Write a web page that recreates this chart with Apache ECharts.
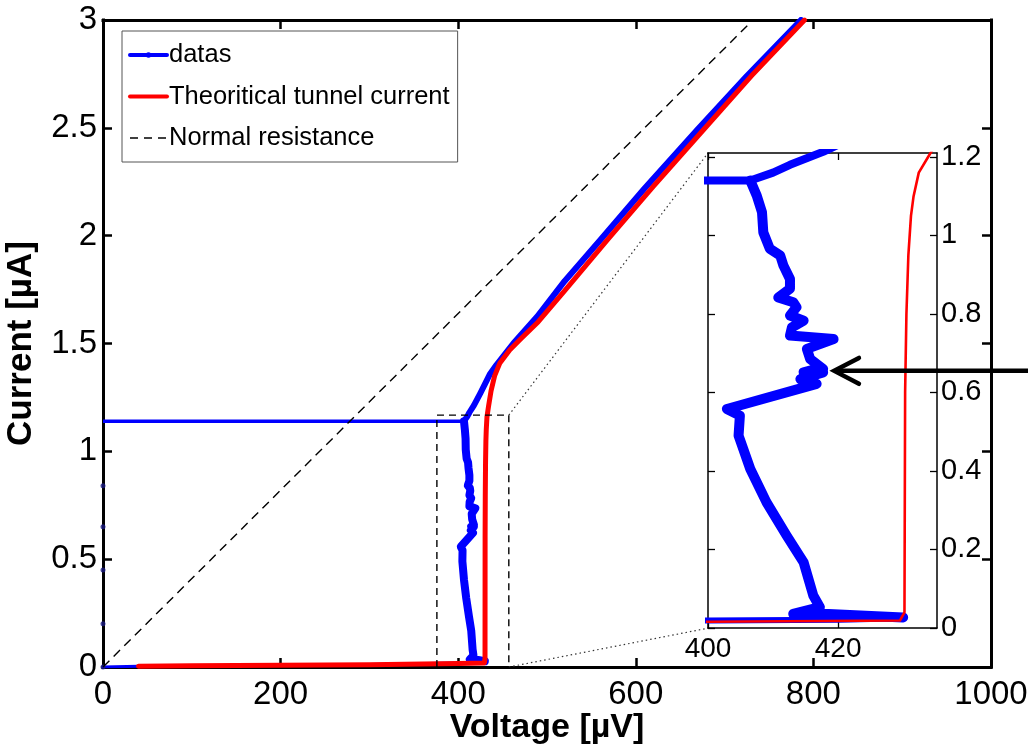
<!DOCTYPE html>
<html>
<head>
<meta charset="utf-8">
<script src="https://cdn.jsdelivr.net/npm/echarts@6/dist/echarts.min.js"></script>
<style>
html,body{margin:0;padding:0;background:#fff;}
#chart{width:1028px;height:745px;}
</style>
</head>
<body>
<div id="chart"></div>
<script>
// ---------------- DATA ----------------
// Measured data ("datas"): switching jump at the switching current
const blueJumpV = [0, 406.5];
const blueJumpI = [1.14, 1.14];
// quasiparticle branch above the gap
const blueUpV = [406.5, 410, 412.6, 417.7, 425, 436, 443, 462, 489, 520, 560, 610, 669, 725, 786];
const blueUpI = [1.14, 1.16, 1.18, 1.213, 1.27, 1.36, 1.40, 1.50, 1.625, 1.79, 1.98, 2.22, 2.49, 2.74, 3.0];
// branch going down along the gap (shown in the inset)
const blueDownV = [406.5, 407.5, 408.3, 408.5, 409.5, 411.1, 411.6, 412.6, 412.6, 410.8, 413.1, 413.6, 412.6, 414.7, 412.9, 412.6, 419.3, 415.2, 415.7, 417.7, 414.7, 416.7, 417.7, 414.2, 416.7, 402.9, 404.9, 404.7, 406.5, 409.0, 412.1, 414.7, 416.2, 417.2, 413.1, 417.7, 430.0];
const blueDownI = [1.14, 1.101, 1.059, 1.008, 0.966, 0.949, 0.923, 0.889, 0.864, 0.842, 0.830, 0.817, 0.796, 0.783, 0.766, 0.745, 0.736, 0.711, 0.685, 0.660, 0.651, 0.660, 0.651, 0.634, 0.622, 0.558, 0.541, 0.490, 0.405, 0.320, 0.235, 0.167, 0.082, 0.053, 0.036, 0.036, 0.027];
// sub-gap return along the bottom
const blueSubV = [430.0, 420, 400, 300, 200, 100, 40, 0];
const blueSubI = [0.025, 0.021, 0.019, 0.012, 0.008, 0.005, 0.003, 0.0];
// zero-voltage (supercurrent) branch points
const blueZeroV = [0, 0, 0, 0, 0];
const blueZeroI = [0.0, 0.2, 0.45, 0.65, 0.84];

// Theoretical tunnel current
const redV = [40, 100, 200, 300, 400, 429.5, 430.2, 430.3, 430.5, 430.8, 431.2, 431.6, 432.4, 434.2, 437, 441, 447, 458, 470, 490, 520, 568, 620, 676, 730, 790];
const redI = [0.004, 0.006, 0.008, 0.011, 0.016, 0.019, 0.04, 0.6, 0.8, 0.95, 1.05, 1.1, 1.16, 1.21, 1.28, 1.35, 1.41, 1.47, 1.52, 1.60, 1.745, 1.98, 2.23, 2.49, 2.74, 3.0];

// Normal resistance
const normV = [0, 732];
const normI = [0, 3.0];

// Zoom indicator (dashed box in main plot, dotted connectors to inset)
const boxV = [376, 376, 457, 457];
const boxI = [0, 1.168, 1.168, 0];
const connTopV = [457, 681.3];
const connTopI = [1.168, 2.383];
const connBotV = [457, 681.3];
const connBotI = [0, 0.18];

// Arrow in the inset (pointing at the data), in inset data units
const arrowShaftV = [449.5, 419.6];
const arrowShaftI = [0.655, 0.655];
const arrowHeadV = [423.2, 419.4, 423.2];
const arrowHeadI = [0.688, 0.655, 0.622];

// Tick values
const mainXTicks = [0, 200, 400, 600, 800, 1000];
const mainYTicks = [0, 0.5, 1, 1.5, 2, 2.5, 3];
const insetXTicks = [400, 420];
const insetYTicks = [0, 0.2, 0.4, 0.6, 0.8, 1, 1.2];

// ---------------- CHART ----------------
const zip = (a, b) => a.map((v, i) => [v, b[i]]);
const FONT = "'Liberation Sans', Arial, sans-serif";
const BLUE = '#0000ff', RED = '#ff0000';

const chart = echarts.init(document.getElementById('chart'), null, {renderer: 'canvas'});

function mainX(pos, show) {
  return {
    gridIndex: 0, type: 'value', position: pos, min: 0, max: 1000, interval: 200,
    axisLine: {show: true, onZero: false, lineStyle: {color: '#000', width: 3, cap: 'square'}},
    axisTick: {show: true, inside: true, length: 9, customValues: mainXTicks, lineStyle: {color: '#000', width: 2.5}},
    axisLabel: {show: show, customValues: mainXTicks, fontSize: 33, color: '#000', fontFamily: FONT, margin: 11,
      formatter: v => String(v)},
    splitLine: {show: false}
  };
}
function mainY(pos, show) {
  return {
    gridIndex: 0, type: 'value', position: pos, min: 0, max: 3, interval: 0.5,
    axisLine: {show: true, onZero: false, lineStyle: {color: '#000', width: 3, cap: 'square'}},
    axisTick: {show: true, inside: true, length: 9, customValues: mainYTicks, lineStyle: {color: '#000', width: 2.5}},
    axisLabel: {show: show, customValues: mainYTicks, fontSize: 33, color: '#000', fontFamily: FONT, margin: 6,
      formatter: v => String(v)},
    splitLine: {show: false}
  };
}
function insetX(pos, show) {
  return {
    gridIndex: 1, type: 'value', position: pos, min: 400, max: 435.2,
    axisLine: {show: true, onZero: false, lineStyle: {color: '#000', width: 1.5}},
    axisTick: {show: true, inside: true, length: 7, customValues: insetXTicks, lineStyle: {color: '#000', width: 1.3}},
    axisLabel: {show: show, customValues: insetXTicks, fontSize: 28, color: '#000', fontFamily: FONT, margin: 7},
    splitLine: {show: false}, z: 6
  };
}
function insetY(pos, show) {
  return {
    gridIndex: 1, type: 'value', position: pos, min: 0, max: 1.21,
    axisLine: {show: true, onZero: false, lineStyle: {color: '#000', width: 1.5}},
    axisTick: {show: true, inside: true, length: 7, customValues: insetYTicks, lineStyle: {color: '#000', width: 1.3}},
    axisLabel: {show: show, customValues: insetYTicks, fontSize: 29, color: '#000', fontFamily: FONT, margin: 4,
      formatter: v => String(Math.round(v * 10) / 10)},
    splitLine: {show: false}, z: 6
  };
}

const xMainBottom = mainX('bottom', true);
xMainBottom.name = 'Voltage [µV]';
xMainBottom.nameLocation = 'middle';
xMainBottom.nameGap = 44;
xMainBottom.nameMoveOverlap = false;
xMainBottom.nameTextStyle = {fontSize: 34, fontWeight: 'bold', color: '#000', fontFamily: FONT};
const yMainLeft = mainY('left', true);
yMainLeft.name = 'Current [µA]';
yMainLeft.nameLocation = 'middle';
yMainLeft.nameGap = 64;
yMainLeft.nameMoveOverlap = false;
yMainLeft.nameTextStyle = {fontSize: 35, fontWeight: 'bold', color: '#000', fontFamily: FONT};

const lineCommon = {type: 'line', symbol: 'none', silent: true, animation: false};

const option = {
  animation: false,
  backgroundColor: '#fff',
  grid: [
    {left: 103, top: 20, width: 888, height: 647, containLabel: false, outerBoundsMode: 'none'},
    {left: 708, top: 153, width: 229, height: 475, show: true, backgroundColor: '#fff', borderWidth: 0, z: 5,
      containLabel: false, outerBoundsMode: 'none'}
  ],
  legend: {
    data: [
      {name: 'datas', lineStyle: {width: 4}},
      {name: 'Theoritical tunnel current', itemStyle: {opacity: 0}, lineStyle: {width: 4}},
      {name: 'Normal resistance', itemStyle: {opacity: 0}, lineStyle: {width: 1.4, type: [8, 6]}}
    ],
    orient: 'vertical', left: 122, top: 31,
    padding: [9, 8, 9, 6], itemGap: 11.5, itemWidth: 37, itemHeight: 7,
    backgroundColor: '#fff', borderColor: '#555', borderWidth: 1, borderRadius: 0,
    textStyle: {fontSize: 25.5, color: '#000', fontFamily: FONT, lineHeight: 30, padding: [0, 0, 0, -3]},
    selectedMode: false, z: 20
  },
  xAxis: [xMainBottom, mainX('top', false), insetX('bottom', true), insetX('top', false)],
  yAxis: [yMainLeft, mainY('right', false), insetY('right', true), insetY('left', false)],
  series: [
    // ---- main plot ----
    Object.assign({}, lineCommon, {name: 'datas', symbol: 'circle', symbolSize: 5, showSymbol: false,
      itemStyle: {color: BLUE}, xAxisIndex: 0, yAxisIndex: 0, z: 2,
      lineStyle: {color: BLUE, width: 6, cap: 'round', join: 'round'}, data: zip(blueUpV, blueUpI)}),
    Object.assign({}, lineCommon, {name: 'datas', xAxisIndex: 0, yAxisIndex: 0, z: 2,
      lineStyle: {color: BLUE, width: 3.5}, data: zip(blueJumpV, blueJumpI)}),
    Object.assign({}, lineCommon, {name: 'datas', xAxisIndex: 0, yAxisIndex: 0, z: 2,
      lineStyle: {color: BLUE, width: 8, cap: 'round', join: 'round'}, data: zip(blueDownV, blueDownI)}),
    Object.assign({}, lineCommon, {name: 'datas', xAxisIndex: 0, yAxisIndex: 0, z: 2,
      lineStyle: {color: BLUE, width: 3, cap: 'round', join: 'round'}, data: zip(blueSubV, blueSubI)}),
    {type: 'scatter', name: 'datas', xAxisIndex: 0, yAxisIndex: 0, z: 2, silent: true, symbolSize: 5,
      itemStyle: {color: '#1a1a80'}, data: zip(blueZeroV, blueZeroI)},
    Object.assign({}, lineCommon, {name: 'Theoritical tunnel current', xAxisIndex: 0, yAxisIndex: 0, z: 3,
      itemStyle: {color: RED},
      lineStyle: {color: RED, width: 5, cap: 'round', join: 'round'}, data: zip(redV, redI)}),
    Object.assign({}, lineCommon, {name: 'Normal resistance', xAxisIndex: 0, yAxisIndex: 0, z: 4,
      itemStyle: {color: '#000'},
      lineStyle: {color: '#000', width: 1.4, type: [9, 6]}, data: zip(normV, normI)}),
    // zoom indicator
    Object.assign({}, lineCommon, {xAxisIndex: 0, yAxisIndex: 0, z: 4,
      lineStyle: {color: '#000', width: 1.4, type: [7, 5]}, data: zip(boxV, boxI)}),
    Object.assign({}, lineCommon, {xAxisIndex: 0, yAxisIndex: 0, z: 4,
      lineStyle: {color: '#333', width: 1.2, type: [1.5, 3]}, data: zip(connTopV, connTopI)}),
    Object.assign({}, lineCommon, {xAxisIndex: 0, yAxisIndex: 0, z: 4,
      lineStyle: {color: '#333', width: 1.2, type: [1.5, 3]}, data: zip(connBotV, connBotI)}),
    // ---- inset ----
    Object.assign({}, lineCommon, {xAxisIndex: 2, yAxisIndex: 2, z: 7,
      lineStyle: {color: BLUE, width: 8, cap: 'round', join: 'round'}, data: zip(blueJumpV, blueJumpI)}),
    Object.assign({}, lineCommon, {xAxisIndex: 2, yAxisIndex: 2, z: 7,
      lineStyle: {color: BLUE, width: 8, cap: 'round', join: 'round'}, data: zip(blueUpV, blueUpI)}),
    Object.assign({}, lineCommon, {xAxisIndex: 2, yAxisIndex: 2, z: 7,
      lineStyle: {color: BLUE, width: 10, cap: 'round', join: 'round'}, data: zip(blueDownV, blueDownI)}),
    Object.assign({}, lineCommon, {xAxisIndex: 2, yAxisIndex: 2, z: 7,
      lineStyle: {color: BLUE, width: 6, cap: 'round', join: 'round'}, data: zip(blueSubV, blueSubI)}),
    Object.assign({}, lineCommon, {xAxisIndex: 2, yAxisIndex: 2, z: 8,
      lineStyle: {color: RED, width: 2.6, cap: 'round', join: 'round'}, data: zip(redV, redI)})
  ]
};
chart.setOption(option);

// Arrow drawn through the inset's scales (extends beyond the inset box)
const toPx = (v, i) => chart.convertToPixel({xAxisIndex: 2, yAxisIndex: 2}, [v, i]);
chart.setOption({
  graphic: [
    {type: 'polyline', z: 100, silent: true,
      shape: {points: zip(arrowShaftV, arrowShaftI).map(p => toPx(p[0], p[1]))},
      style: {stroke: '#000', lineWidth: 4.5, fill: null}},
    {type: 'polyline', z: 100, silent: true,
      shape: {points: zip(arrowHeadV, arrowHeadI).map(p => toPx(p[0], p[1]))},
      style: {stroke: '#000', lineWidth: 4.5, fill: null, lineCap: 'round', lineJoin: 'miter'}}
  ]
});
</script>
</body>
</html>
